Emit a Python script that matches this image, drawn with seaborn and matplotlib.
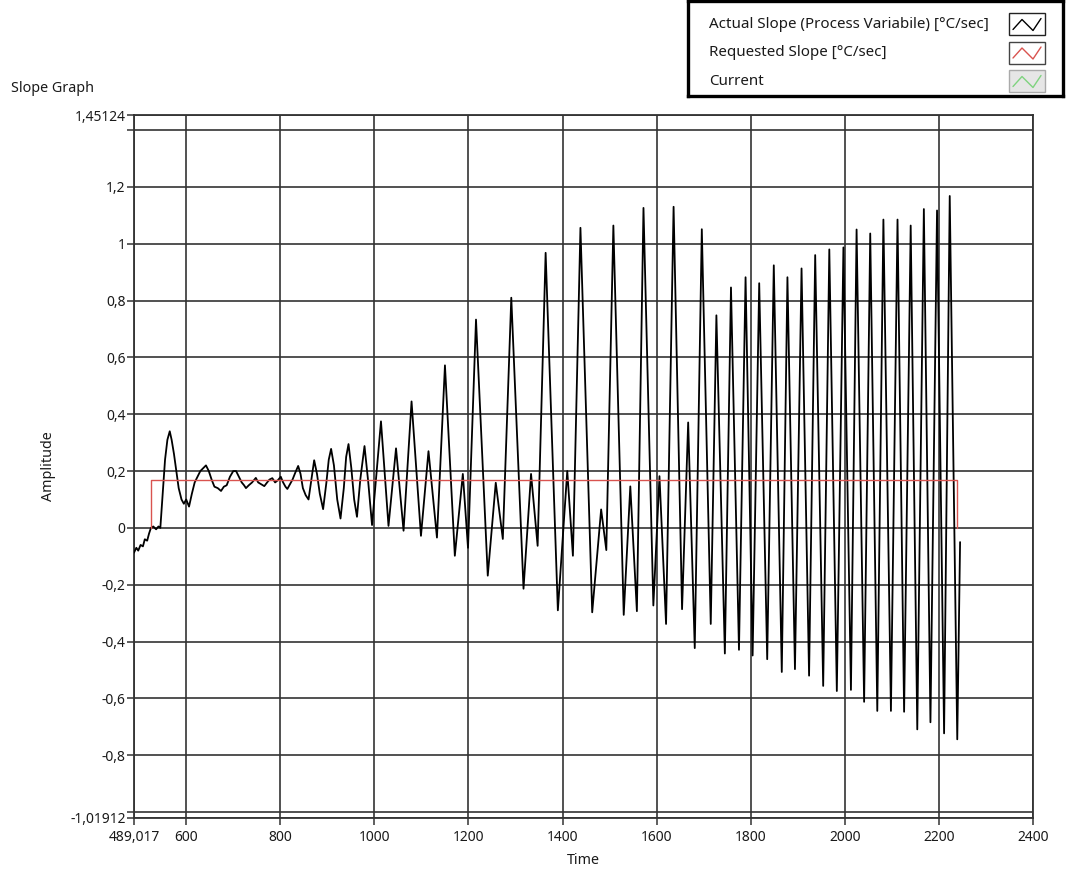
import numpy as np
import pandas as pd
import matplotlib
matplotlib.use("Agg")
import matplotlib.pyplot as plt
from matplotlib.patches import Rectangle
import seaborn as sns

# ---------------- data ----------------
time_actual = [
    489, 494, 498, 503, 508, 512, 517, 521, 525, 530, 536, 541, 545,
    550, 555, 560, 565, 569, 574, 579, 584, 590, 595, 600, 606, 612, 618,
    624, 630, 636, 642, 648, 654, 660, 667, 674, 680, 686, 693, 700, 706,
    712, 718, 723, 727, 733, 740, 748, 753, 758, 766, 772, 777, 783, 789,
    795, 801, 806, 811, 815, 821, 826, 832, 838, 843, 848, 854, 860, 866,
    872, 878, 884, 891, 898, 903, 908, 914, 921, 928, 935, 940, 945, 951,
    957, 963, 970, 979, 987, 995,
    1014, 1030, 1046, 1062, 1079, 1099, 1115, 1133, 1150, 1171, 1188, 1199,
    1216, 1241, 1258, 1273, 1291, 1317, 1333, 1347, 1364, 1390, 1410, 1422,
    1438, 1463, 1482, 1493, 1508, 1530, 1544, 1558, 1572, 1593, 1606, 1620,
    1636, 1654, 1667, 1681, 1696, 1715, 1727, 1745, 1758, 1775, 1789, 1804,
    1818, 1835, 1849, 1866, 1878, 1894, 1908, 1924, 1937, 1954, 1967, 1983,
    1997, 2013, 2025, 2041, 2054, 2069, 2082, 2098, 2112, 2126, 2140, 2154,
    2168, 2182, 2196, 2211, 2223, 2239, 2245,
]
slope_actual = [
    -0.087, -0.07, -0.08, -0.06, -0.065, -0.04, -0.045, -0.02, 0.0, 0.005,
    -0.005, 0.005, 0.0,
    0.12, 0.24, 0.31, 0.34, 0.31, 0.26, 0.2, 0.14, 0.1, 0.085, 0.1, 0.075,
    0.12, 0.16, 0.18, 0.2, 0.21, 0.22, 0.2, 0.17, 0.145, 0.14, 0.13, 0.145,
    0.15, 0.18, 0.2, 0.2, 0.18, 0.16, 0.15, 0.14, 0.15, 0.16, 0.176, 0.16,
    0.155, 0.147, 0.16, 0.17, 0.175, 0.16, 0.168, 0.18, 0.16, 0.145, 0.137,
    0.155, 0.17, 0.195, 0.218, 0.19, 0.14, 0.115, 0.1, 0.17, 0.238, 0.19,
    0.12, 0.066, 0.16, 0.24, 0.278, 0.22, 0.1, 0.033, 0.14, 0.25, 0.295,
    0.21, 0.1, 0.039, 0.17, 0.288, 0.16, 0.01,
    0.375, 0.007, 0.28, -0.01, 0.445, -0.028, 0.27, -0.034, 0.572, -0.098,
    0.19, -0.07, 0.733, -0.168, 0.159, -0.039, 0.81, -0.214, 0.19, -0.063,
    0.968, -0.29, 0.2, -0.098, 1.056, -0.297, 0.065, -0.078, 1.064, -0.306,
    0.146, -0.293, 1.126, -0.273, 0.182, -0.338, 1.13, -0.286, 0.371, -0.423,
    1.051, -0.338, 0.748, -0.442, 0.846, -0.429, 0.882, -0.449, 0.861, -0.462,
    0.924, -0.507, 0.882, -0.497, 0.913, -0.52, 0.96, -0.556, 0.98, -0.574,
    0.987, -0.57, 1.05, -0.612, 1.036, -0.644, 1.085, -0.644, 1.085, -0.647,
    1.064, -0.709, 1.122, -0.684, 1.117, -0.723, 1.168, -0.744, -0.05,
]
time_requested = [525, 525, 2239, 2239]
slope_requested = [0.0, 0.167, 0.167, 0.0]

x_min, x_max = 489.017, 2400
y_min, y_max = -1.01912, 1.45124
x_ticks = [489.017, 600, 800, 1000, 1200, 1400, 1600, 1800, 2000, 2200, 2400]
y_ticks = [-1.01912, -1.0, -0.8, -0.6, -0.4, -0.2, 0.0, 0.2, 0.4, 0.6, 0.8,
           1.0, 1.2, 1.4, 1.45124]
y_unlabeled = [-1.0, 1.4]

legend_labels = ["Actual Slope (Process Variabile) [°C/sec]",
                 "Requested Slope [°C/sec]",
                 "Current"]
legend_colors = ["black", "#d9534f", "#7fd37f"]

title_text = "Slope Graph"
x_label = "Time"
y_label = "Amplitude"

# ---------------- styling ----------------
sns.set_theme(style="white")
plt.rcParams["font.family"] = ["Noto Sans", "DejaVu Sans"]

W, H = 1066, 872
fig = plt.figure(figsize=(W / 100, H / 100), dpi=100)
fig.patch.set_facecolor("white")

left, right, top, bottom = 134, 1033, 115.5, 817.5
ax = fig.add_axes([left / W, 1 - bottom / H, (right - left) / W, (bottom - top) / H])

df_act = pd.DataFrame({"Time": time_actual, "Amplitude": slope_actual})
df_req = pd.DataFrame({"Time": time_requested, "Amplitude": slope_requested})

sns.lineplot(data=df_act, x="Time", y="Amplitude", ax=ax, color="black",
             lw=1.3, estimator=None, sort=False, zorder=3)
sns.lineplot(data=df_req, x="Time", y="Amplitude", ax=ax, color="#d9534f",
             lw=1.0, estimator=None, sort=False, zorder=4)

ax.set_xlim(x_min, x_max)
ax.set_ylim(y_min, y_max)


def fmt(v):
    s = "{:g}".format(round(v, 6))
    if s == "-0":
        s = "0"
    return s.replace(".", ",")


ax.set_xticks(x_ticks)
ax.set_xticklabels([fmt(v) for v in x_ticks])
ax.set_yticks(y_ticks)
ax.set_yticklabels(["" if v in y_unlabeled else fmt(v) for v in y_ticks])

grid_color = "#333333"
ax.grid(True, color=grid_color, lw=1.2)
ax.set_axisbelow(True)
for sp in ax.spines.values():
    sp.set_visible(True)
    sp.set_color(grid_color)
    sp.set_linewidth(1.3)

ax.tick_params(axis="both", which="major", direction="out", length=5,
               width=1.1, color=grid_color, labelsize=10, labelcolor="#1a1a1a",
               left=True, bottom=True)
ax.tick_params(axis="x", pad=4)
ax.tick_params(axis="y", pad=1)

ax.set_xlabel(x_label, fontsize=10.3, color="#1a1a1a", labelpad=6)
ax.set_ylabel(y_label, fontsize=10.3, color="#1a1a1a", labelpad=10)

fig.text(11 / W, 1 - 89 / H, title_text, fontsize=10.3, color="#1a1a1a",
         ha="left", va="center")

# ---------------- legend box (top right) ----------------
lx0, lx1, ly0, ly1 = 688, 1063, 1.5, 96
lax = fig.add_axes([lx0 / W, 1 - ly1 / H, (lx1 - lx0) / W, (ly1 - ly0) / H])
lax.set_xlim(0, lx1 - lx0)
lax.set_ylim(ly1 - ly0, 0)
lax.set_xticks([])
lax.set_yticks([])
lax.set_facecolor("white")
for sp in lax.spines.values():
    sp.set_visible(True)
    sp.set_color("black")
    sp.set_linewidth(2.4)

row_centers = [23, 51.5, 80]
box_edges = ["#222222", "#444444", "#aaaaaa"]
box_faces = ["white", "white", "#e6e6e6"]
for i, (lab, col) in enumerate(zip(legend_labels, legend_colors)):
    cy = row_centers[i]
    lax.text(21, cy, lab, fontsize=10.9, color="#1a1a1a", ha="left", va="center")
    bx, bw, bh = 321, 36, 22
    lax.add_patch(Rectangle((bx, cy - bh / 2), bw, bh, facecolor=box_faces[i],
                            edgecolor=box_edges[i], lw=1.0))
    zx = [bx + 4, bx + 13, bx + 24, bx + 32]
    zy = [cy + 5, cy - 5, cy + 6, cy - 6]
    lax.plot(zx, zy, color=col, lw=1.0)

fig.savefig("out.png", dpi=100, facecolor="white")
